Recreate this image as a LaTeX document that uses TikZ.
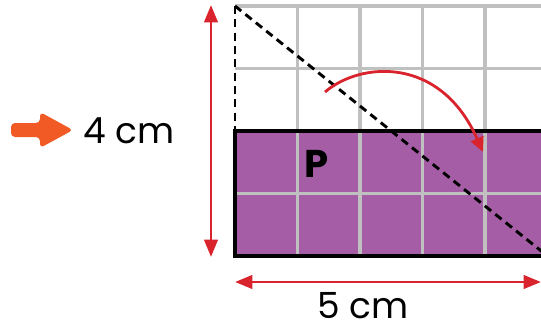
\documentclass[tikz,border=0pt]{standalone}
\usepackage{fontspec}
\setmainfont{Poppins}
\usetikzlibrary{arrows.meta}
\definecolor{gridgray}{RGB}{192,192,192}
\definecolor{purp}{RGB}{165,94,165}
\definecolor{redarr}{RGB}{217,35,45}
\definecolor{orng}{RGB}{241,90,36}
\begin{document}
\begin{tikzpicture}[x=0.75pt,y=-0.75pt,
  gridline/.style={draw=gridgray,line width=2.3pt},
  border/.style={draw=black,line width=2.6pt},
  dashline/.style={draw=black,line width=2.2pt,dash pattern=on 6pt off 4pt},
  dimarrow/.style={draw=redarr,line width=2.2pt,{Triangle[length=13pt,width=10pt]}-{Triangle[length=13pt,width=10pt]}},
  curvearrow/.style={draw=redarr,line width=2.1pt,-{Triangle[length=11pt,width=10pt]}},
  lbl/.style={font=\fontsize{27}{32}\selectfont,inner sep=0pt}]
\useasboundingbox (0,0) rectangle (541,328);
\clip (0,0) rectangle (541,328);
\fill[white] (0,0) rectangle (541,328);
% purple strip
\fill[purp] (235,131) rectangle (560,256);
% grid
\foreach \x in {297.5,360,422.5,485,547.5}
  \draw[gridline] (\x,6) -- (\x,256);
\foreach \y in {6,68.5,193.5}
  \draw[gridline] (235,\y) -- (560,\y);
% border of purple rectangle
\draw[border] (560,131) -- (235,131) -- (235,256) -- (560,256);
% dashed lines
\coordinate (tl) at (235,6);
\coordinate (ml) at (235,131);
\coordinate (br) at (547.5,256);
\draw[dashline] (tl) -- (ml);
\draw[dashline] (tl) -- (br);
% dimension arrows
\coordinate (vt) at (211,5);
\coordinate (vb) at (211,257);
\draw[dimarrow] (vt) -- (vb);
\coordinate (hl) at (235,282);
\coordinate (hr) at (541,282);
\draw[dimarrow] (hl) -- (hr);
% curved arrow
\coordinate (cs) at (325,92);
\coordinate (ce) at (483,152);
\draw[curvearrow] (cs) .. controls (360,62) and (440,55) .. (ce);
% orange block arrow
\fill[orng,rounded corners=3pt] (11,123) -- (40,123) -- (40,112) -- (73,130) -- (40,148) -- (40,137) -- (11,137) -- cycle;
% labels
\node[lbl,anchor=west] (four) at (83,131) {4 cm};
\node[lbl,anchor=base] (five) at (363,318) {5 cm};
\node[font=\fontsize{29}{34}\selectfont\bfseries,inner sep=0pt] (P) at (317,164) {P};
\end{tikzpicture}
\end{document}
